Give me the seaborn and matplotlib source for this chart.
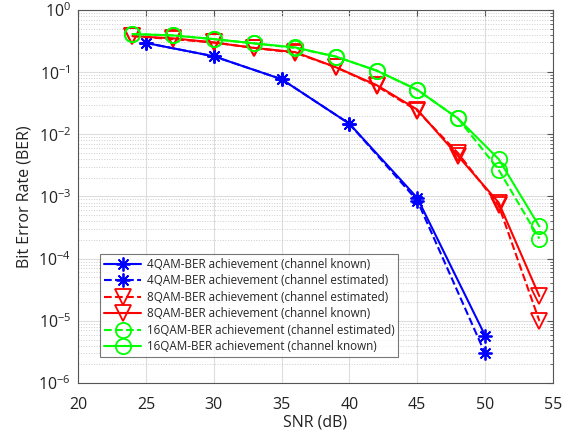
import numpy as np
import pandas as pd
import matplotlib
matplotlib.use("Agg")
import matplotlib.pyplot as plt
import seaborn as sns
from matplotlib.ticker import LogLocator, NullFormatter

# ---- data ----
snr_4qam = [25, 30, 35, 40, 45, 50]
ber_4qam_known = [0.295, 0.18, 0.077, 0.0148, 0.00095, 5.8e-6]
ber_4qam_est = [0.295, 0.18, 0.077, 0.0148, 0.00086, 3.0e-6]

snr_8_16 = [24, 27, 30, 33, 36, 39, 42, 45, 48, 51, 54]
ber_8qam_est = [0.38, 0.34, 0.30, 0.245, 0.205, 0.12, 0.06, 0.024, 0.0050, 0.00072, 1.0e-5]
ber_8qam_known = [0.38, 0.35, 0.30, 0.245, 0.21, 0.12, 0.062, 0.025, 0.0045, 0.00080, 2.5e-5]
ber_16qam_est = [0.41, 0.39, 0.34, 0.29, 0.245, 0.178, 0.106, 0.052, 0.018, 0.0027, 2.1e-4]
ber_16qam_known = [0.41, 0.39, 0.34, 0.29, 0.25, 0.178, 0.106, 0.052, 0.018, 0.0040, 3.3e-4]

labels = [
    "4QAM-BER achievement (channel known)",
    "4QAM-BER achievement (channel estimated)",
    "8QAM-BER achievement (channel estimated)",
    "8QAM-BER achievement (channel known)",
    "16QAM-BER achievement (channel estimated)",
    "16QAM-BER achievement (channel known)",
]

series = [
    (snr_4qam, ber_4qam_known, "#0000ff", "-", (8, 2, 0), 10),
    (snr_4qam, ber_4qam_est, "#0000ff", "--", (8, 2, 0), 10),
    (snr_8_16, ber_8qam_est, "#ff0000", "--", "v", 12),
    (snr_8_16, ber_8qam_known, "#ff0000", "-", "v", 12),
    (snr_8_16, ber_16qam_est, "#00ff00", "--", "o", 11),
    (snr_8_16, ber_16qam_known, "#00ff00", "-", "o", 11),
]

sns.set_style("white")
plt.rcParams["font.family"] = ["Open Sans", "DejaVu Sans"]

fig = plt.figure(figsize=(5.7, 4.34), dpi=100)
ax = fig.add_axes([0.137, 0.1175, 0.833, 0.8595])

for (x, y, c, ls, mk, ms), lab in zip(series, labels):
    df = pd.DataFrame({"x": x, "y": y})
    sns.lineplot(data=df, x="x", y="y", ax=ax, color=c, linestyle=ls,
                 marker=mk, markersize=ms, markerfacecolor="none",
                 markeredgecolor=c, markeredgewidth=1.3, linewidth=1.5,
                 label=lab, legend=False)

ax.set_yscale("log")
ax.set_xlim(20, 55)
ax.set_ylim(1e-6, 1)
ax.set_xticks([20, 25, 30, 35, 40, 45, 50, 55])
ax.yaxis.set_major_locator(LogLocator(base=10, numticks=10))
ax.yaxis.set_minor_locator(LogLocator(base=10, subs=np.arange(2, 10), numticks=10))
ax.yaxis.set_minor_formatter(NullFormatter())

ax.grid(True, which="major", color="#dddddd", linestyle="-", linewidth=0.8)
ax.grid(True, which="minor", axis="y", color="#cccccc", linestyle=":", linewidth=0.7)
ax.set_axisbelow(True)

for s in ax.spines.values():
    s.set_color("#555555")
    s.set_linewidth(0.8)
ax.tick_params(which="both", direction="in", top=True, right=True,
               color="#555555", labelsize=11.5, labelcolor="#222222")
ax.tick_params(which="major", length=4)
ax.tick_params(which="minor", length=2)
ax.tick_params(axis="x", which="major", pad=10)
ax.tick_params(axis="y", which="major", pad=5)

ax.set_xlabel("SNR (dB)", fontsize=11.5, color="#222222", labelpad=1)
ax.set_ylabel("Bit Error Rate (BER)", fontsize=11.5, color="#222222", labelpad=4)

leg = ax.legend(loc="lower left", bbox_to_anchor=(0.047, 0.07), fontsize=8.4,
                frameon=True, fancybox=False, edgecolor="#555555",
                borderpad=0.3, labelspacing=0.3, handlelength=3.2,
                handletextpad=0.5, borderaxespad=0)
leg.get_frame().set_linewidth(0.8)

fig.savefig("out.png", dpi=100)
